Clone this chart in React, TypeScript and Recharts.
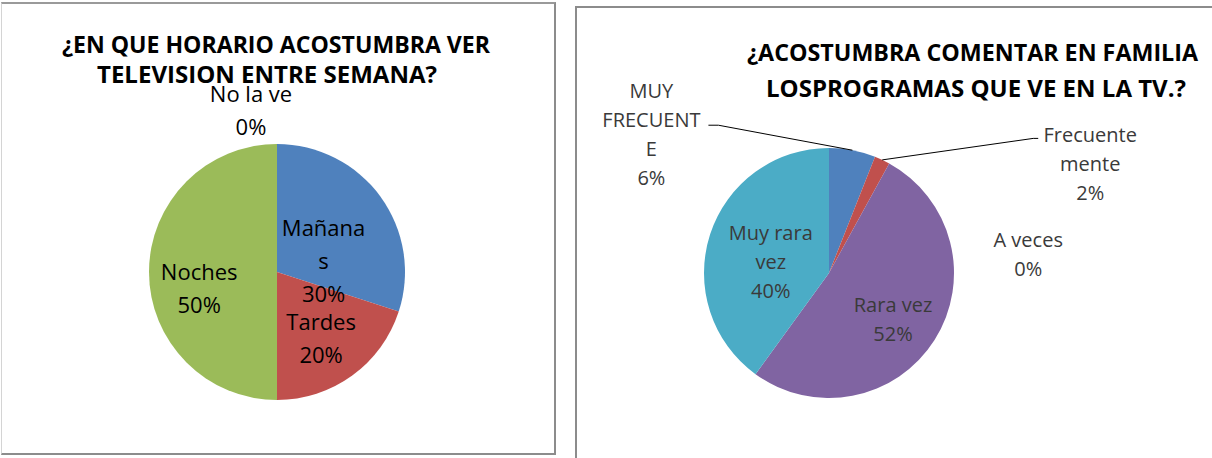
import React from "react";
import { PieChart, Pie, Cell } from "recharts";

// ---- left chart: "¿EN QUE HORARIO ..."
const horarioCategories = ["Mañanas", "Tardes", "Noches", "No la ve"];
const horarioValues = [30, 20, 50, 0];
const horarioLabelLines = [["Mañana", "s"], ["Tardes"], ["Noches"], ["No la ve"]];
const horarioTitle = ["¿EN QUE HORARIO ACOSTUMBRA VER", "TELEVISION ENTRE SEMANA?"];

// ---- right chart: "¿ACOSTUMBRA COMENTAR ..."
const comentarCategories = ["MUY FRECUENTE", "Frecuentemente", "A veces", "Rara vez", "Muy rara vez"];
const comentarValues = [6, 2, 0, 52, 40];
const comentarLabelLines = [["MUY", "FRECUENT", "E"], ["Frecuente", "mente"], ["A veces"], ["Rara vez"], ["Muy rara", "vez"]];
const comentarTitle = ["¿ACOSTUMBRA COMENTAR EN FAMILIA", "LOSPROGRAMAS QUE VE EN LA TV.?"];

const BLUE = "#4F81BD";
const RED = "#C0504D";
const GREEN = "#9BBB59";
const PURPLE = "#8064A2";
const TEAL = "#4BACC6";

const horarioColors = [BLUE, RED, GREEN, PURPLE];
const comentarColors = [BLUE, RED, GREEN, PURPLE, TEAL];

const FONT = "'Open Sans', 'Noto Sans', sans-serif";
const RAD = Math.PI / 180;
const NO_MARGIN = { top: 0, right: 0, bottom: 0, left: 0 };

type Place = { r: number; dx: number; dy: number; leader?: [number, number][] };

// label anchor = polar(midAngle, r * outerRadius) + (dx, dy); leader points are relative to the anchor
const horarioPlaces: Place[] = [
  { r: 0.45, dx: 0, dy: 23 },
  { r: 0.6, dx: -1, dy: 5 },
  { r: 0.6, dx: -1, dy: 17 },
  { r: 1.26, dx: -26, dy: 0 },
];

const comentarPlaces: Place[] = [
  { r: 1, dx: -201, dy: -16, leader: [[67, -9], [57, -9]] },
  { r: 1, dx: 208, dy: 3.5, leader: [[-57, -25], [-52, -25]] },
  { r: 1, dx: 139, dy: 91 },
  { r: 0.64, dx: -3.5, dy: 3 },
  { r: 0.49, dx: 0, dy: 8 },
];

function makeLabel(lines: string[][], places: Place[], fontSize: number, lineH: number, color: string) {
  return (props: any) => {
    const { cx, cy, midAngle, outerRadius, percent, index } = props;
    const p = places[index];
    const cos = Math.cos(-midAngle * RAD);
    const sin = Math.sin(-midAngle * RAD);
    const ax = cx + outerRadius * p.r * cos + p.dx;
    const ay = cy + outerRadius * p.r * sin + p.dy;
    const texts = [...lines[index], `${Math.round(percent * 100)}%`];
    const capHalf = fontSize * 0.357;
    const y0 = ay - ((texts.length - 1) * lineH) / 2 + capHalf;
    let leader = null;
    if (p.leader) {
      const ex = cx + outerRadius * cos;
      const ey = cy + outerRadius * sin;
      const pts = [[ex, ey], ...p.leader.map(([lx, ly]) => [ax + lx, ay + ly])];
      leader = <polyline points={pts.map((q) => q.join(",")).join(" ")} fill="none" stroke="#000" strokeWidth={1} />;
    }
    return (
      <g key={`lbl-${index}`}>
        {leader}
        <text x={ax} y={y0} textAnchor="middle" fill={color} fontSize={fontSize} fontFamily={FONT}>
          {texts.map((t, i) => (
            <tspan key={i} x={ax} y={y0 + i * lineH}>
              {t}
            </tspan>
          ))}
        </text>
      </g>
    );
  };
}

function Title({ lines, cx, baselines, lengths }: { lines: string[]; cx: number[]; baselines: number[]; lengths: number[] }) {
  return (
    <svg width="100%" height="100%" style={{ position: "absolute", left: 0, top: 0, pointerEvents: "none" }}>
      {lines.map((t, i) => (
        <text
          key={i}
          x={cx[i]}
          y={baselines[i]}
          textAnchor="middle"
          fontFamily={FONT}
          fontWeight="bold"
          fontSize={23}
          fill="#000"
          textLength={lengths[i]}
          lengthAdjust="spacingAndGlyphs"
        >
          {t}
        </text>
      ))}
    </svg>
  );
}

const horarioData = horarioCategories.map((name, i) => ({ name, value: horarioValues[i] }));
const comentarData = comentarCategories.map((name, i) => ({ name, value: comentarValues[i] }));

export default function App() {
  return (
    <div style={{ position: "absolute", left: 0, top: 0, width: 1212, height: 458, background: "#fff", overflow: "hidden" }}>
      {/* left panel */}
      <div style={{ position: "absolute", left: 0, top: 0, width: 556, height: 454 }}>
        <PieChart width={556} height={454} margin={NO_MARGIN}>
          <Pie
            data={horarioData}
            dataKey="value"
            nameKey="name"
            cx={277}
            cy={272}
            outerRadius={128}
            startAngle={90}
            endAngle={-270}
            stroke="none"
            label={makeLabel(horarioLabelLines, horarioPlaces, 22, 33, "#000")}
            labelLine={false}
            isAnimationActive={false}
          >
            {horarioData.map((d, i) => (
              <Cell key={d.name} fill={horarioColors[i]} />
            ))}
          </Pie>
        </PieChart>
        <Title lines={horarioTitle} cx={[276, 267]} baselines={[53, 83]} lengths={[428, 340]} />
        <div
          style={{
            position: "absolute",
            left: 1,
            top: 2,
            width: 552,
            height: 449,
            borderTop: "2px solid #9a9a9a",
            borderLeft: "1px solid #d4d4d4",
            borderRight: "2px solid #8c8c8c",
            borderBottom: "2px solid #8c8c8c",
            pointerEvents: "none",
          }}
        />
      </div>

      {/* right panel */}
      <div style={{ position: "absolute", left: 575, top: 0, width: 637, height: 458 }}>
        <PieChart width={637} height={458} margin={NO_MARGIN}>
          <Pie
            data={comentarData}
            dataKey="value"
            nameKey="name"
            cx={254}
            cy={273}
            outerRadius={125}
            startAngle={90}
            endAngle={-270}
            stroke="none"
            label={makeLabel(comentarLabelLines, comentarPlaces, 20, 29, "#3a3a3a")}
            labelLine={false}
            isAnimationActive={false}
          >
            {comentarData.map((d, i) => (
              <Cell key={d.name} fill={comentarColors[i]} />
            ))}
          </Pie>
        </PieChart>
        <Title lines={comentarTitle} cx={[972.5 - 575, 976 - 575]} baselines={[61, 97]} lengths={[451, 420]} />
        <div
          style={{
            position: "absolute",
            left: 0,
            top: 6,
            width: 640,
            height: 470,
            borderTop: "2px solid #8c8c8c",
            borderLeft: "2px solid #8c8c8c",
            borderRight: "1px solid #d4d4d4",
            pointerEvents: "none",
          }}
        />
      </div>
    </div>
  );
}
